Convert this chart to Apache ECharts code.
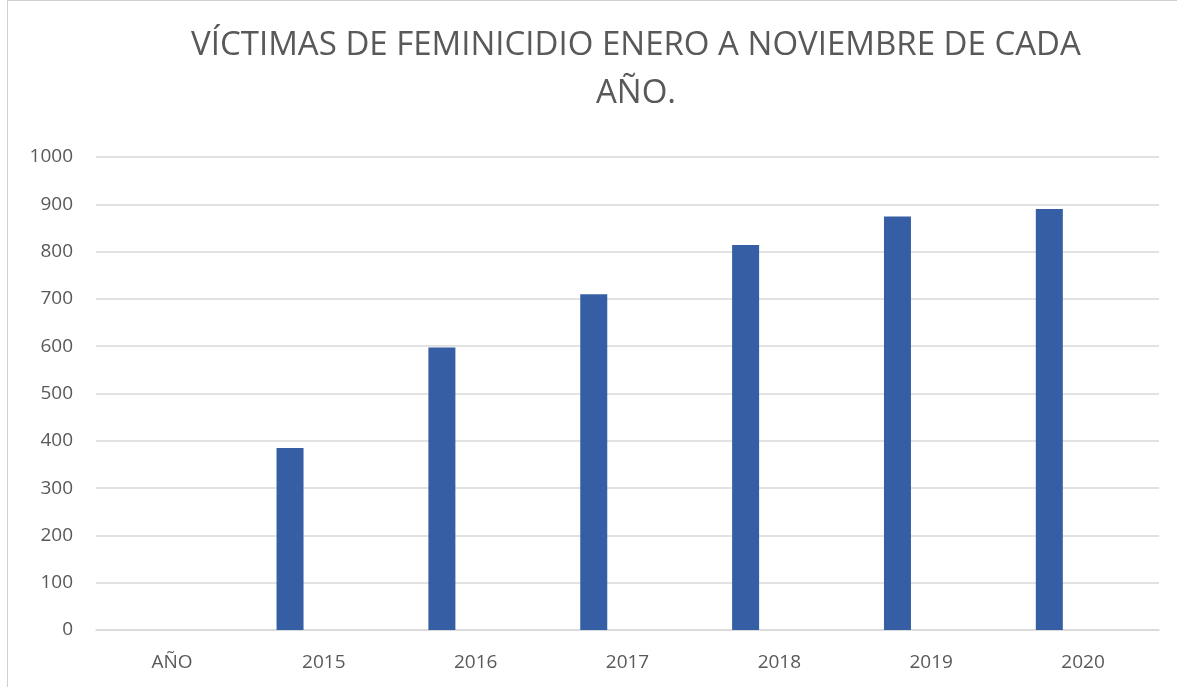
<!DOCTYPE html>
<html><head><meta charset="utf-8">
<script src="https://cdn.jsdelivr.net/npm/echarts@6/dist/echarts.min.js"></script>
<style>html,body{margin:0;padding:0;background:#fff;}#c{width:1177px;height:687px;}
#frame{position:absolute;left:7px;top:0;width:1200px;height:700px;border-left:1px solid #d0d0d0;border-top:1px solid #d0d0d0;pointer-events:none;}</style>
</head><body><div id="c"></div><div id="frame"></div>
<script>
const categories = ['AÑO', '2015', '2016', '2017', '2018', '2019', '2020'];
const victims = [null, 385, 597, 710, 814, 874, 890];
const emptySeries = [null, null, null, null, null, null, null];
const yTicks = {min: 0, max: 1000, interval: 100};
const titleText = 'VÍCTIMAS DE FEMINICIDIO ENERO A NOVIEMBRE DE CADA\nAÑO.';
const chart = echarts.init(document.getElementById('c'));
chart.setOption({
  animation: false,
  title: {
    text: titleText, left: 631, top: 17, textAlign: 'center',
    textStyle: {fontFamily: 'Open Sans', fontWeight: 'normal', fontSize: 33, color: '#595959', lineHeight: 48}
  },
  grid: {left: 96, right: 18, top: 157, bottom: 57},
  xAxis: {
    type: 'category', data: categories,
    axisLine: {lineStyle: {color: '#d9d9d9', width: 1.5}},
    axisTick: {show: false},
    axisLabel: {color: '#595959', fontSize: 19, fontFamily: 'Open Sans', margin: 23}
  },
  yAxis: {
    type: 'value', min: yTicks.min, max: yTicks.max, interval: yTicks.interval,
    axisLine: {show: false}, axisTick: {show: false},
    splitLine: {lineStyle: {color: '#d9d9d9', width: 1.5}},
    axisLabel: {color: '#595959', fontSize: 19, fontFamily: 'Open Sans', margin: 23, formatter: v => String(v)}
  },
  series: [
    {type: 'bar', data: victims, barWidth: 27, barGap: '150%', itemStyle: {color: '#355ea4'}},
    {type: 'bar', data: emptySeries, barWidth: 27, barGap: '150%'}
  ]
});
</script></body></html>
